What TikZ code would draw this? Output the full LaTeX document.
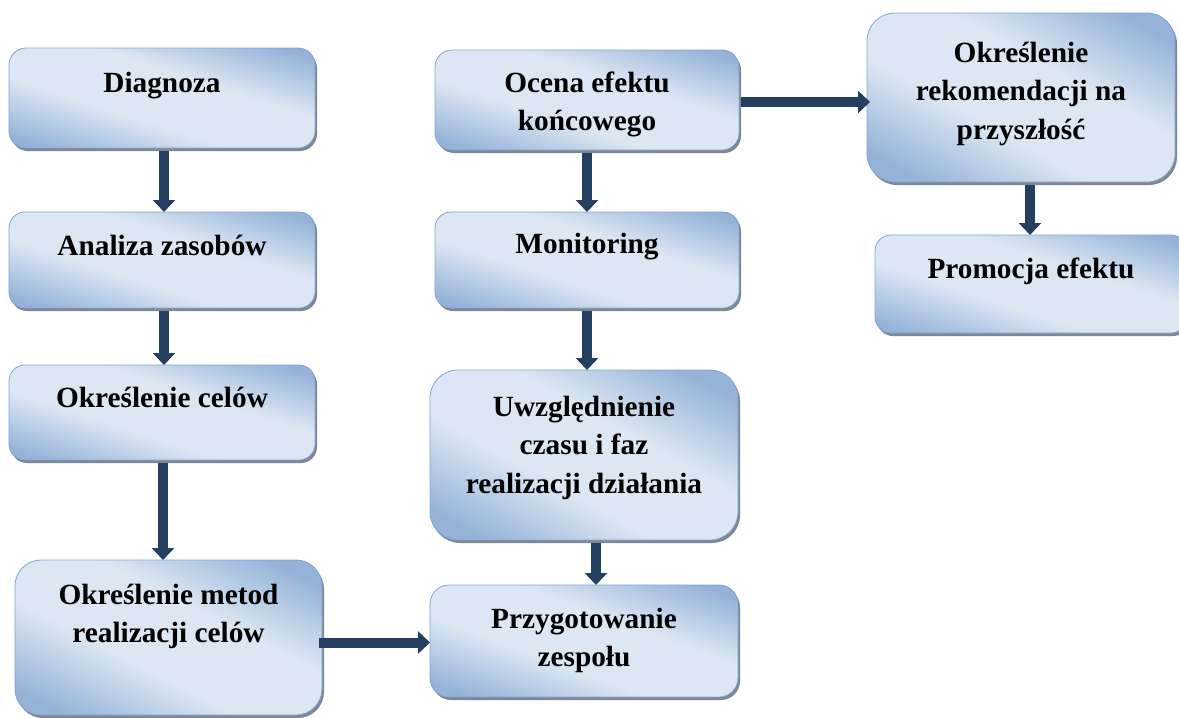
\documentclass[tikz,border=0pt]{standalone}
\usepackage{fontspec}
\setmainfont{Liberation Serif}
\usetikzlibrary{arrows.meta,shadows}
\definecolor{arrc}{RGB}{36,63,96}
\definecolor{lt}{RGB}{221,231,243}
\definecolor{dk}{RGB}{149,179,216}
\definecolor{bordc}{RGB}{128,163,208}
\definecolor{shc}{RGB}{125,135,150}
\pgfdeclareverticalshading{boxshade}{100bp}{color(0bp)=(dk); color(22bp)=(dk); color(41bp)=(lt); color(59bp)=(lt); color(78bp)=(dk); color(100bp)=(dk)}
\newcommand{\boxtext}[4]{\parbox[c][#2pt][t]{#1pt}{\centering\fontsize{29.3}{38.5}\selectfont\bfseries\rule{0pt}{#3pt}#4\par}}
\tikzset{
  box/.style 2 args={draw=bordc, line width=0.8pt, rounded corners=#1, shading=boxshade, shading angle=#2,
    inner sep=0pt, outer sep=0pt, anchor=north west,
    drop shadow={shadow xshift=2pt, shadow yshift=-3pt, fill=shc, opacity=1}},
  arr/.style={draw=arrc, line width=10pt, -{Triangle[width=22pt,length=12pt]}}
}
\begin{document}
\begin{tikzpicture}[x=1pt,y=1pt]
\useasboundingbox (0,0) rectangle (1179,-718);
% left column
\node[box={17pt}{-18}] (diag) at (9,-48) {\boxtext{306}{100}{44}{Diagnoza}};
\node[box={16pt}{-18}] (anal) at (9,-212) {\boxtext{306}{96}{43}{Analiza zasobów}};
\node[box={16pt}{-18}] (cel) at (9,-365) {\boxtext{306}{95}{42}{Określenie celów}};
\node[box={26pt}{-27}] (met) at (15,-560) {\boxtext{307}{155}{44}{Określenie metod\\realizacji celów}};
% middle column
\node[box={17pt}{-18}] (ocena) at (435,-50) {\boxtext{304}{100}{42}{Ocena efektu\\końcowego}};
\node[box={16pt}{-18}] (mon) at (435,-212) {\boxtext{304}{96}{41}{Monitoring}};
\node[box={28pt}{-29}] (uwz) at (430,-370) {\boxtext{308}{170}{46}{Uwzględnienie\\czasu i faz\\realizacji działania}};
\node[box={19pt}{-20}] (prz) at (430,-585) {\boxtext{308}{112}{43}{Przygotowanie\\zespołu}};
% right column
\node[box={28pt}{-29}] (rek) at (867,-13) {\boxtext{308}{169}{49}{Określenie\\rekomendacji na\\przyszłość}};
\node[box={16pt}{-18}] (pro) at (875,-235) {\boxtext{312}{98}{43}{Promocja efektu}};
% connectors
\draw[arr] ([xshift=2pt,yshift=-3pt]diag.south) -- ([xshift=2pt]diag.south |- anal.north);
\draw[arr] ([xshift=2pt,yshift=-3pt]anal.south) -- ([xshift=2pt]anal.south |- cel.north);
\draw[arr] ([xshift=1pt,yshift=-3pt]cel.south) -- ([xshift=1pt]cel.south |- met.north);
\draw[arr] ([xshift=-3pt,yshift=-5pt]met.east) -- ([yshift=-5pt]met.east -| prz.west);
\draw[arr] ([yshift=-3pt]ocena.south) -- (ocena.south |- mon.north);
\draw[arr] ([yshift=-3pt]mon.south) -- (mon.south |- uwz.north);
\draw[arr] ([xshift=12pt,yshift=-3pt]uwz.south) -- ([xshift=12pt]uwz.south |- prz.north);
\draw[arr] ([xshift=2pt,yshift=-2pt]ocena.east) -- ([yshift=-2pt,xshift=3pt]ocena.east -| rek.west);
\draw[arr] ([xshift=9pt,yshift=-3pt]rek.south) -- ([xshift=9pt]rek.south |- pro.north);
\end{tikzpicture}
\end{document}
